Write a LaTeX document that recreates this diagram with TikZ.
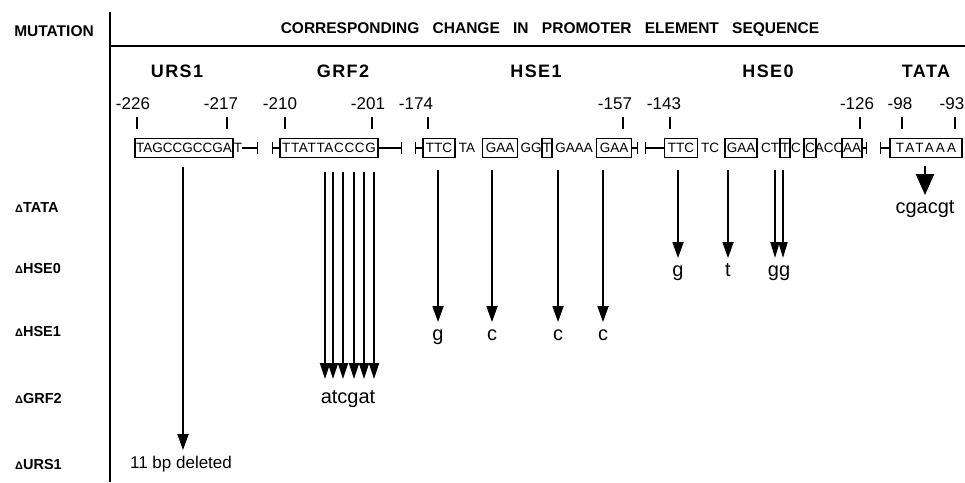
\documentclass[tikz,border=0pt]{standalone}
\usepackage{fontspec}
\setmainfont{Liberation Sans}
\usetikzlibrary{arrows.meta}

\begin{document}
\begin{tikzpicture}[x=1pt,y=-1pt]
  \tikzstyle{header} = [font=\fontsize{15.5}{18}\selectfont\bfseries, inner sep=0pt]
  \tikzstyle{element} = [font=\fontsize{18}{20}\selectfont\bfseries\addfontfeature{LetterSpace=8}, inner sep=0pt]
  \tikzstyle{pos label} = [font=\fontsize{17}{19}\selectfont, inner sep=0pt]
  \tikzstyle{pos tick} = [draw, line width=1.3pt]
  \tikzstyle{seq} = [font=\fontsize{13.5}{15}\selectfont, inner sep=0pt, text height=9.8pt, text depth=0pt]
  \tikzstyle{seq box} = [seq, draw, line width=1.3pt, minimum height=19pt, inner xsep=1pt]
  \tikzstyle{link} = [draw, line width=1.3pt]
  \tikzstyle{frame line} = [draw, line width=1.5pt]
  \tikzstyle{mutation} = [font=\fontsize{14.5}{16}\selectfont\bfseries, anchor=west, inner sep=0pt]
  \tikzstyle{change} = [font=\fontsize{20}{22}\selectfont, inner sep=0pt, text height=10pt, text depth=3.5pt]
  \tikzstyle{mut arrow} = [draw, line width=1.8pt, -{Triangle[length=16pt,width=11pt]}, shorten >=8pt]
  \tikzstyle{big arrow} = [draw, line width=2.2pt, -{Triangle[length=21pt,width=18pt]}, shorten >=8pt]

  \useasboundingbox (0,0) rectangle (965,482);

  % table frame
  \node[header] (mut) at (54,31) {MUTATION};
  \node[header] (hdr) at (550,30) {CORRESPONDING\hspace{9pt} CHANGE\hspace{9pt} IN\hspace{9pt} PROMOTER\hspace{9pt} ELEMENT\hspace{9pt} SEQUENCE};
  \draw[frame line] (110,12) -- (110,482);
  \draw[frame line] (110,46) -- (965,46);

  % elements
  \node[element] (urs) at (177,71) {URS1};
  \node[element] (grf) at (343,71) {GRF2};
  \node[element] (hse1) at (536,71) {HSE1};
  \node[element] (hse0) at (768,71) {HSE0};
  \node[element] (tata) at (926,71) {TATA};

  % positions
  \foreach \x/\n in {133/226,221/217,280/210,368/201,416/174,615/157,664/143,857/126,900/98,952/93}
    \node[pos label] (p\n) at (\x,104) {-\n};
  \foreach \x in {137,227,285,372,428,623,670,860,902,955}
    \draw[pos tick] (\x,117) -- (\x,129);

  % URS1
  \node[seq box, minimum width=98pt] (u1) at (184,148) {TAGCCGCCGA};
  \node[seq] (u1t) at (238,148) {T};
  \coordinate (ub) at (258,148);
  \draw[link, -{Bar[width=12pt]}] (u1t) -- (ub);

  % GRF2
  \coordinate (gb) at (272,148);
  \node[seq box, minimum width=98pt] (g1) at (329,148) {\addfontfeature{LetterSpace=5}TTATTACCCG};
  \coordinate (gb2) at (402,148);
  \draw[link, {Bar[width=12pt]}-] (gb) -- (g1);
  \draw[link, -{Bar[width=12pt]}] (g1) -- (gb2);

  % HSE1
  \coordinate (hb) at (415,148);
  \node[seq box, minimum width=32pt] (h1) at (439,148) {TTC};
  \node[seq] (h1a) at (467,148) {TA};
  \node[seq box, minimum width=35pt] (h2) at (500,148) {GAA};
  \node[seq] (h2a) at (531,148) {GG};
  \node[seq box, minimum width=10pt] (h3) at (547,148) {T};
  \node[seq] (h3a) at (574,148) {GAAA};
  \node[seq box, minimum width=35pt] (h4) at (614,148) {GAA};
  \coordinate (hb2) at (638,148);
  \draw[link, {Bar[width=12pt]}-] (hb) -- (h1);
  \draw[link, -{Bar[width=12pt]}] (h4) -- (hb2);

  % HSE0
  \coordinate (eb) at (645,148);
  \node[seq box, minimum width=33pt] (e1) at (681,148) {TTC};
  \node[seq] (e1a) at (710,148) {TC};
  \node[seq box, minimum width=32pt] (e2) at (741,148) {GAA};
  \node[seq] (e2a) at (770,148) {CT};
  \node[seq box, minimum width=10pt] (e3) at (785,148) {T};
  \node[seq] (e3a) at (796,148) {C};
  \node[seq box, minimum width=10pt] (e4) at (810,148) {C};
  \node[seq] (e4a) at (829,148) {ACC};
  \node[seq box, minimum width=19pt] (e5) at (852,148) {AA};
  \coordinate (eb2) at (867,148);
  \draw[link, {Bar[width=12pt]}-] (eb) -- (e1);
  \draw[link, -{Bar[width=12pt]}] (e5) -- (eb2);

  % TATA
  \coordinate (tb) at (880,148);
  \node[seq box, minimum width=72pt] (t1) at (926,148) {\addfontfeature{LetterSpace=16}TATAAA\hspace{-2pt}};
  \draw[link, {Bar[width=12pt]}-] (tb) -- (t1);

  % mutations
  \node[mutation] (mtata) at (15,208) {{\fontsize{11}{11}\selectfont Δ}TATA};
  \node[mutation] (mhse0) at (15,269) {{\fontsize{11}{11}\selectfont Δ}HSE0};
  \node[mutation] (mhse1) at (15,332) {{\fontsize{11}{11}\selectfont Δ}HSE1};
  \node[mutation] (mgrf2) at (15,399) {{\fontsize{11}{11}\selectfont Δ}GRF2};
  \node[mutation] (murs1) at (15,464) {{\fontsize{11}{11}\selectfont Δ}URS1};

  \coordinate (top) at (0,170);

  % changes
  \node[change] (tc) at (925,210) {cgacgt};
  \coordinate (ta) at (925,166);
  \draw[big arrow] (ta) -- (tc.north);

  \node[change] (eg) at (678,273) {g};
  \node[change] (et) at (728,273) {t};
  \node[change] (egg) at (779,273) {gg};
  \draw[mut arrow] (eg.north |- top) -- (eg.north);
  \draw[mut arrow] (et.north |- top) -- (et.north);
  \coordinate (gg1) at (775,170);
  \coordinate (gg2) at (783,170);
  \draw[mut arrow, -{Triangle[length=16pt,width=9pt]}] (gg1) -- (gg1 |- egg.north);
  \draw[mut arrow, -{Triangle[length=16pt,width=9pt]}] (gg2) -- (gg2 |- egg.north);

  \node[change] (hg) at (438,337) {g};
  \node[change] (hc1) at (492,337) {c};
  \node[change] (hc2) at (558,337) {c};
  \node[change] (hc3) at (603,337) {c};
  \foreach \n in {hg,hc1,hc2,hc3}
    \draw[mut arrow] (\n.north |- top) -- (\n.north);

  \node[change] (atcg) at (348,400) {atcgat};
  \foreach \x [count=\i] in {325,333,343,354,364,374} {
    \coordinate (ga\i) at (\x,172);
    \draw[mut arrow, -{Triangle[length=16pt,width=10pt]}, shorten >=14pt] (ga\i) -- (ga\i |- atcg.north);
  }

  \node[change, font=\fontsize{17}{19}\selectfont] (del) at (181,465) {11 bp deleted};
  \coordinate (ua) at (183,167);
  \draw[mut arrow] (ua) -- (ua |- del.north);
\end{tikzpicture}
\end{document}
